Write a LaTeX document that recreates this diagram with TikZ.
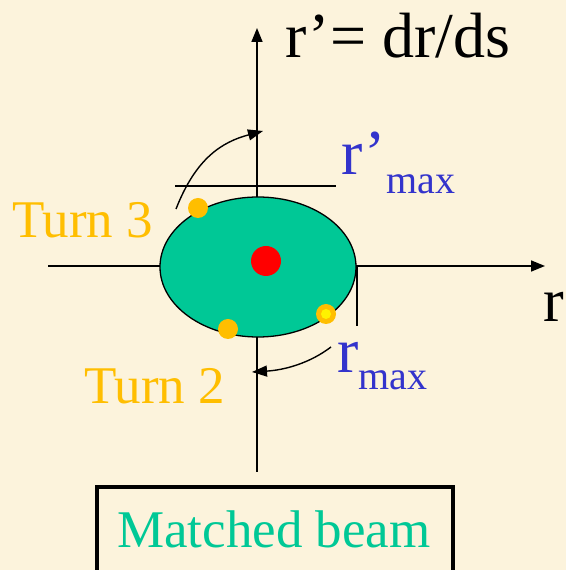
\documentclass[tikz,border=0pt]{standalone}
\usepackage{fontspec}
\setmainfont{Liberation Serif}
\usepackage{tikz}
\usetikzlibrary{arrows.meta, positioning}
\definecolor{papercream}{RGB}{252, 243, 220}
\definecolor{beamgreen}{RGB}{0, 200, 150}
\definecolor{turnorange}{RGB}{255, 190, 0}
\definecolor{labelblue}{RGB}{51, 51, 204}

\begin{document}
\begin{tikzpicture}[x=1pt, y=1pt,
    axis/.style={line width=1.6pt, -{Triangle[length=14pt, width=11pt]}},
    turn/.style={-{Triangle[length=15pt, width=11pt]}, line width=1.4pt},
    txt/.style={inner sep=0pt, anchor=base west, font=\fontsize{53}{60}\selectfont}]
    % Paper background
    \fill[papercream] (0,0) rectangle (566,570);
    \useasboundingbox (0,0) rectangle (566,570);

    % Axes
    \coordinate (ybot) at (257,98);
    \coordinate (ytop) at (257,542);
    \coordinate (xleft) at (48,304);
    \coordinate (xright) at (545,304);
    \draw[axis] (ybot) -- (ytop);
    \draw[axis] (xleft) -- (xright);
    \node[txt, font=\fontsize{64}{70}\selectfont] (rprime) at (285,512) {r’= dr/ds};
    \node[txt, font=\fontsize{62}{70}\selectfont] (raxis) at (543,248) {r};

    % Matched beam ellipse
    \fill[beamgreen, draw=black, line width=1.3pt] (258,303) ellipse [x radius=98, y radius=70];
    \fill[red] (266,309) circle (15);
    \fill[turnorange] (198,362) circle (10);
    \fill[turnorange] (228,241) circle (10);
    \fill[turnorange] (326,256) circle (10);
    \fill[yellow] (326,256) circle (5);

    % Maximum markers
    \coordinate (tanL) at (175,384);
    \coordinate (tanR) at (336,384);
    \draw[line width=1.4pt] (tanL) -- (tanR);
    \coordinate (tickT) at (357,303);
    \coordinate (tickB) at (357,244);
    \draw[line width=2.6pt] (tickT) -- (tickB);
    \node[txt, text=labelblue, font=\fontsize{64}{70}\selectfont] (rpmax) at (341,395)
        {r’\raisebox{-19pt}{\fontsize{40}{44}\selectfont max}};
    \node[txt, text=labelblue, font=\fontsize{64}{70}\selectfont] (rmax) at (337,197)
        {r\raisebox{-17pt}{\fontsize{40}{44}\selectfont max}};

    % Turn arrows
    \coordinate (up0) at (176,361);
    \coordinate (up1) at (263,439);
    \draw[turn] (up0) .. controls (196,412) and (222,428) .. (up1);
    \coordinate (dn0) at (331,223);
    \coordinate (dn1) at (252,198);
    \draw[turn] (dn0) .. controls (310,207) and (285,200) .. (dn1);
    \node[txt, text=turnorange] (turn3) at (12,332) {Turn 3};
    \node[txt, text=turnorange] (turn2) at (84,166) {Turn 2};

    % Label box
    \draw[line width=4pt] (97,83) rectangle (453,-10);
    \node[txt, text=beamgreen] (matched) at (117,23) {Matched beam};
\end{tikzpicture}
\end{document}
